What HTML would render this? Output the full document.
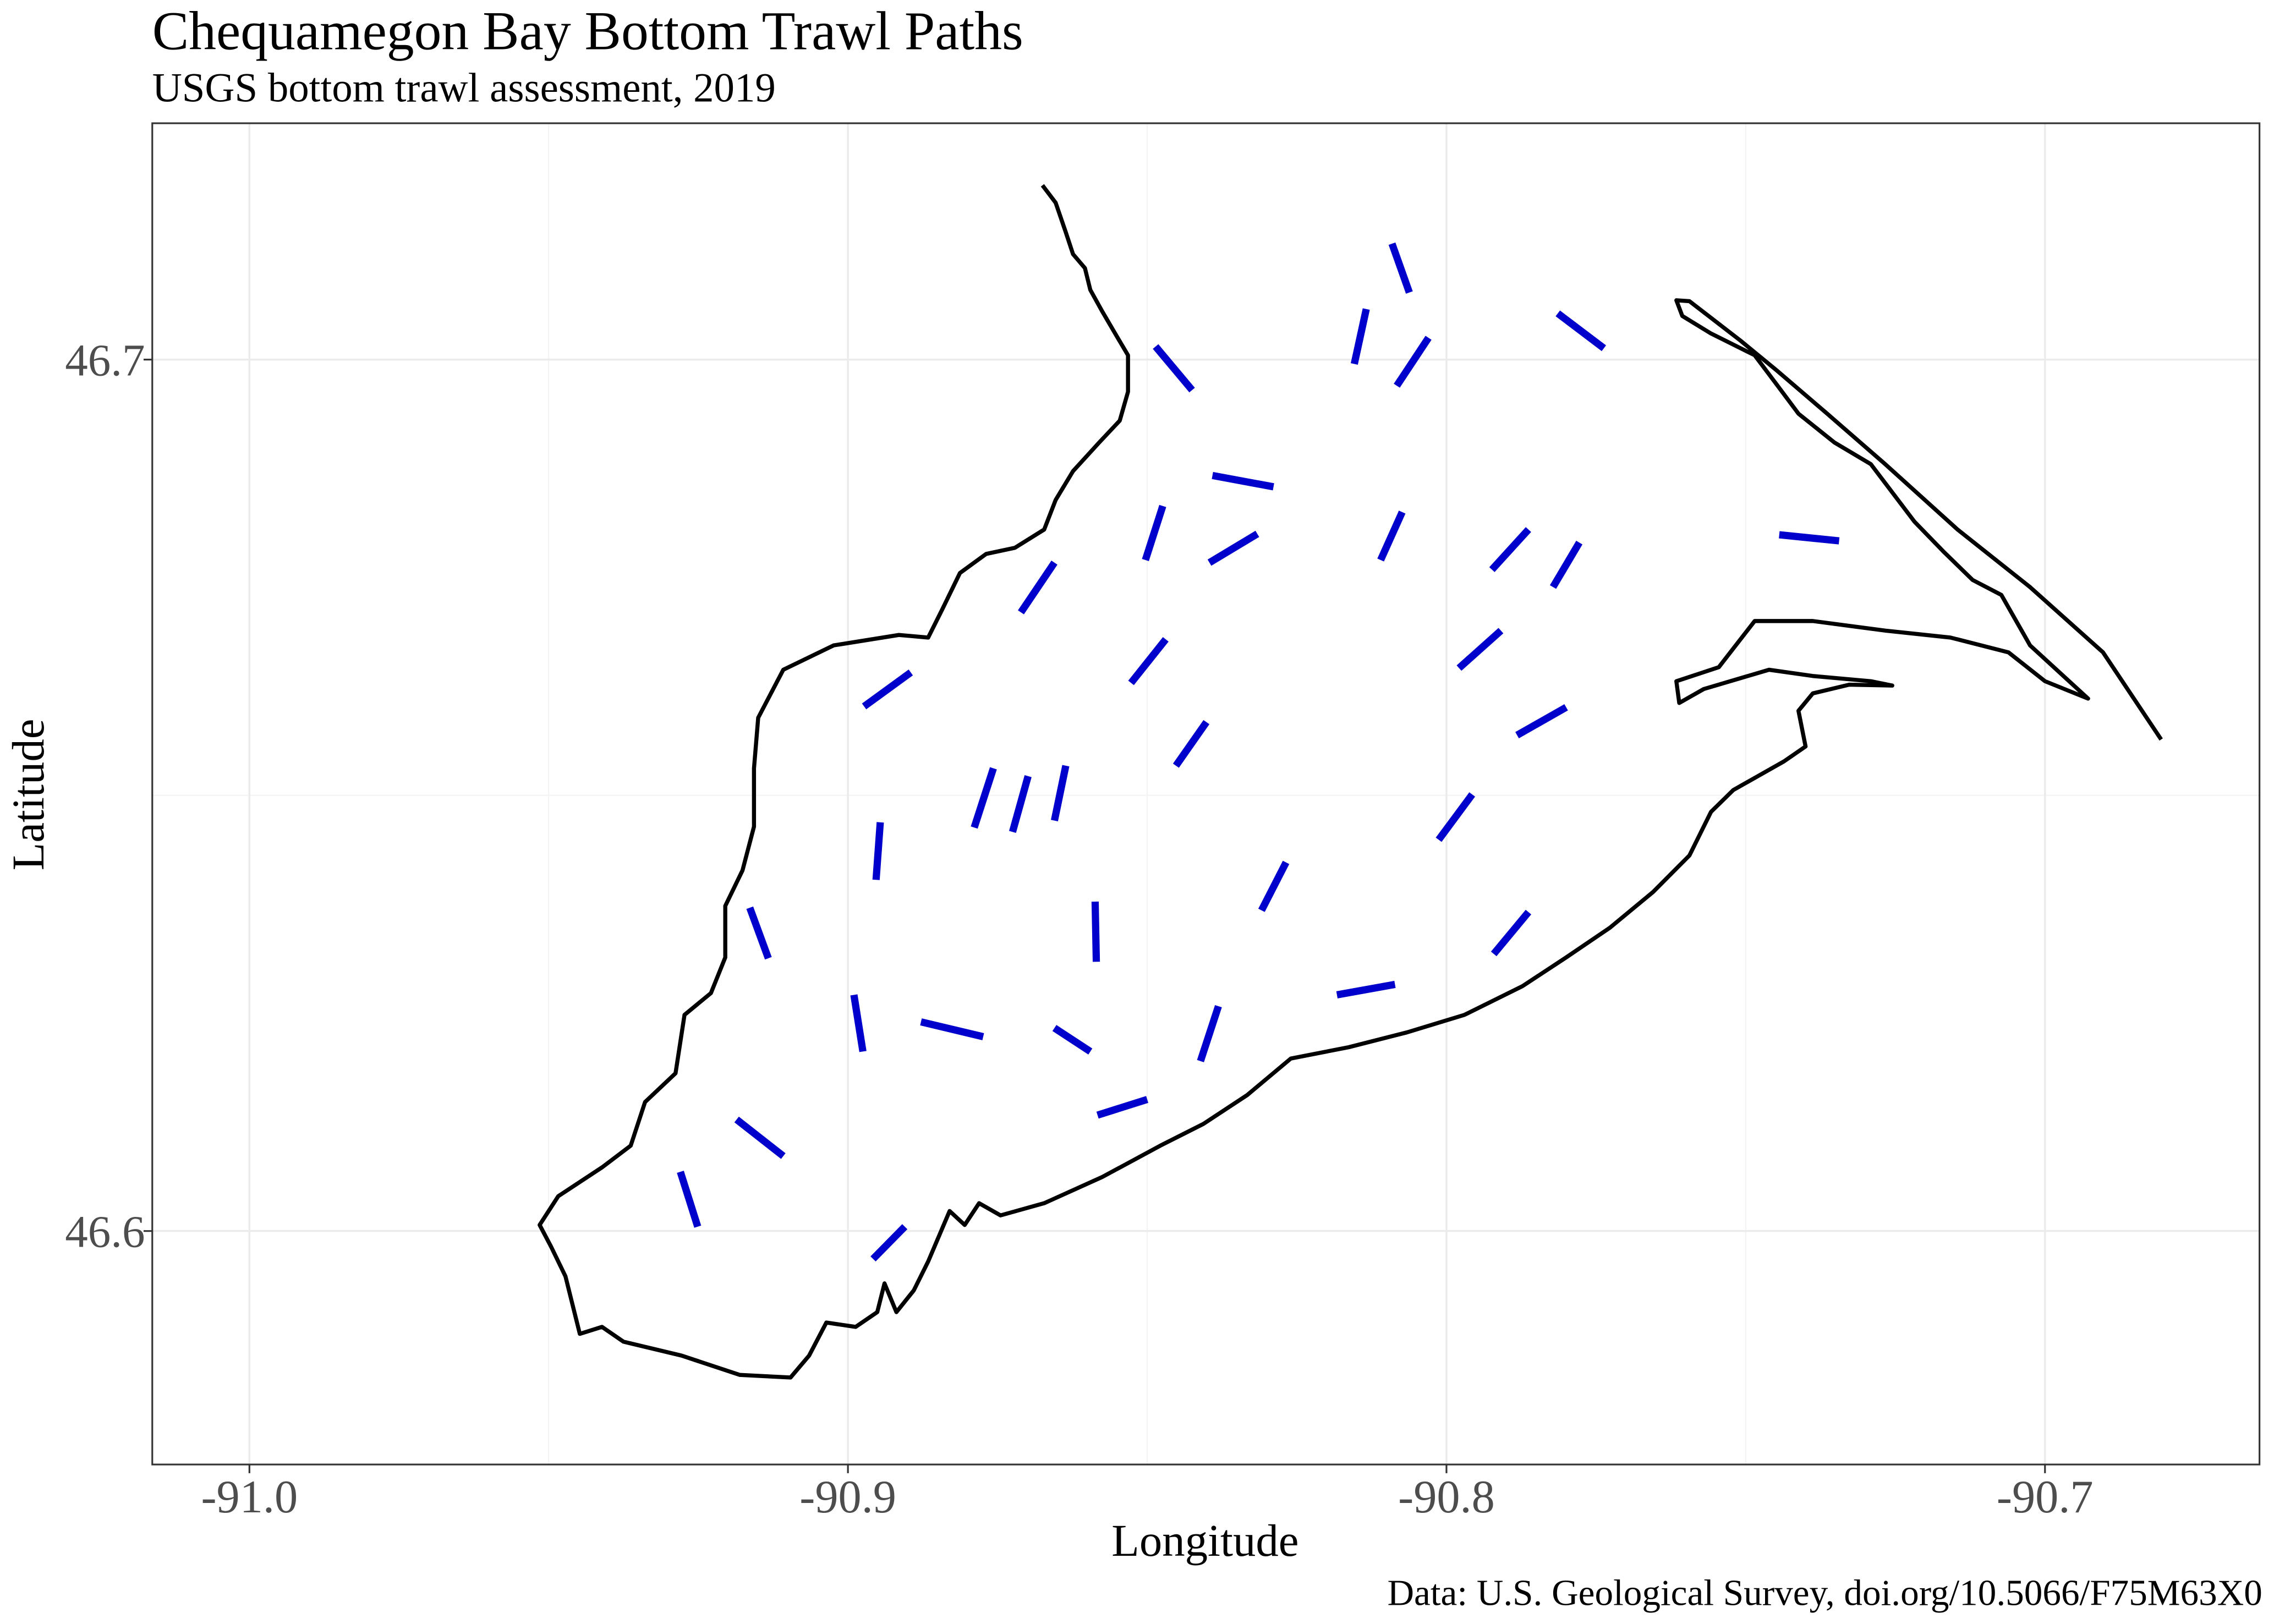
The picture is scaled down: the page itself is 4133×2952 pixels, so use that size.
<!DOCTYPE html>
<html><head><meta charset="utf-8"><title>Chequamegon Bay Bottom Trawl Paths</title>
<style>html,body{margin:0;padding:0;background:#fff;}svg{display:block;}</style></head>
<body>
<svg id="chart" width="4133" height="2952" viewBox="0 0 1568 1120" preserveAspectRatio="none" xmlns="http://www.w3.org/2000/svg" font-family="'Liberation Serif', serif">
<rect x="0" y="0" width="1568" height="1120" fill="#fff"/>
<text x="105" y="34" font-size="37.8" fill="#000">Chequamegon Bay Bottom Trawl Paths</text>
<text x="105" y="70" font-size="28.4" fill="#000">USGS bottom trawl assessment, 2019</text>
<g id="grid"></g>
<g id="shore"></g>
<g id="trawls"></g>
<rect x="105" y="85" width="1453" height="925" fill="none" stroke="#333" stroke-width="1.2"/>
<g id="axes"></g>
<text x="831" y="1073" font-size="31.4" text-anchor="middle" fill="#000">Longitude</text>
<text transform="translate(30,548) rotate(-90)" font-size="31.4" text-anchor="middle" fill="#000">Latitude</text>
<text x="1560" y="1107" font-size="25.5" text-anchor="end" fill="#000">Data: U.S. Geological Survey, doi.org/10.5066/F75M63X0</text>
</svg>
<script>
const lonTicks = [-91.0, -90.9, -90.8, -90.7];
const lonTickLabels = ["-91.0", "-90.9", "-90.8", "-90.7"];
const lonMinor = [-90.95, -90.85, -90.75];
const latTicks = [46.6, 46.7];
const latTickLabels = ["46.6", "46.7"];
const latMinor = [46.65];
// trawl segments: start/end longitude and latitude
const trawlLon1 = [-90.8091,-90.8134,-90.8030,-90.7814,-90.8486,-90.8391,-90.8474,-90.8316,-90.8074,-90.7863,-90.7778,-90.7444,-90.8655,-90.8469,-90.7909,-90.8895,-90.8401,-90.7800,-90.8757,-90.8699,-90.8636,-90.8946,-90.7957,-90.8268,-90.9164,-90.8587,-90.7863,-90.8990,-90.8878,-90.8655,-90.8183,-90.8381,-90.8500,-90.9186,-90.9280,-90.8905];
const trawlLat1 = [46.7133,46.7058,46.7025,46.7053,46.7015,46.6867,46.6832,46.6800,46.6825,46.6805,46.6790,46.6799,46.6767,46.6679,46.6689,46.6641,46.6584,46.6601,46.6531,46.6522,46.6534,46.6469,46.6501,46.6423,46.6371,46.6378,46.6366,46.6271,46.6240,46.6233,46.6271,46.6258,46.6151,46.6128,46.6068,46.6005];
const trawlLon2 = [-90.8062,-90.8154,-90.8083,-90.7737,-90.8425,-90.8289,-90.8503,-90.8396,-90.8110,-90.7924,-90.7822,-90.7344,-90.8711,-90.8527,-90.7979,-90.8973,-90.8452,-90.7882,-90.8789,-90.8725,-90.8655,-90.8953,-90.8013,-90.8309,-90.9133,-90.8585,-90.7921,-90.8975,-90.8774,-90.8595,-90.8086,-90.8411,-90.8583,-90.9108,-90.9251,-90.8958];
const trawlLat2 = [46.7077,46.6995,46.6970,46.7013,46.6965,46.6854,46.6770,46.6767,46.6770,46.6759,46.6739,46.6792,46.6710,46.6629,46.6646,46.6602,46.6534,46.6569,46.6463,46.6458,46.6471,46.6403,46.6449,46.6368,46.6313,46.6309,46.6318,46.6206,46.6223,46.6206,46.6283,46.6195,46.6133,46.6086,46.6005,46.5968];
// shoreline: longitude offset from -91.0 and latitude offset from 46.7, in millidegrees
const shoreLonMd = [132.5,134.7,136.4,137.6,139.6,140.5,142.5,144.9,146.8,146.8,145.4,142.0,137.6,134.7,132.8,127.9,123.1,118.7,115.8,113.4,108.5,97.6,92.8,89.2,85.0,84.3,84.3,82.4,79.5,79.5,77.1,72.7,71.2,66.1,63.7,58.9,51.6,48.5,50.4,52.8,55.2,58.9,62.5,72.2,81.9,90.4,93.5,96.4,101.3,104.9,106.1,108.1,111.0,113.4,117.0,119.5,121.9,125.5,132.8,142.5,152.2,159.4,166.7,174.0,183.7,193.4,203.0,212.7,220.0,227.3,234.5,240.6,244.2,247.9,256.4,260.0,258.8,261.2,267.3,274.5,270.9,261.2,253.9,243.0,238.9,238.4,245.5,251.5,261.2,273.3,284.2,293.9,300.0,307.2,297.5,292.7,287.9,283.0,278.2,270.9,264.8,258.8,255.1,251.5,244.2,239.4,238.4,240.6,249.1,255.1,263.6,273.3,285.4,297.5,309.7,319.4];
const shoreLatMd = [20.0,18.0,14.6,12.1,10.5,8.0,5.5,2.7,0.5,-3.7,-7.0,-9.5,-12.8,-16.1,-19.5,-21.6,-22.3,-24.5,-28.6,-31.9,-31.6,-32.8,-34.4,-35.6,-41.1,-46.9,-53.6,-58.6,-62.7,-68.6,-72.7,-75.2,-81.9,-85.2,-90.2,-92.7,-96.0,-99.3,-101.8,-105.2,-111.8,-111.0,-112.7,-114.3,-116.5,-116.8,-114.3,-110.5,-111.0,-109.3,-106.0,-109.3,-106.8,-103.5,-97.7,-99.3,-96.8,-98.2,-96.8,-93.8,-90.2,-87.7,-84.4,-80.2,-78.9,-77.2,-75.2,-71.9,-68.6,-65.2,-61.1,-56.9,-51.9,-49.4,-46.1,-44.4,-40.3,-38.3,-37.3,-37.4,-36.9,-36.3,-35.6,-37.8,-39.4,-36.9,-35.3,-30.0,-30.0,-31.1,-31.9,-33.6,-36.9,-38.9,-32.8,-27.0,-25.3,-22.0,-18.6,-12.0,-9.5,-6.2,-2.8,0.5,3.0,5.0,6.8,6.7,2.2,-1.2,-6.2,-12.0,-19.5,-26.1,-33.6,-43.6];

const NS = "http://www.w3.org/2000/svg";
const px0 = 105, px1 = 1558, py0 = 85, py1 = 1010;
const lonMin = -91.01623, lonMax = -90.66416, latMin = 46.57321, latMax = 46.72712;
function xScale(lon){ return px0 + (lon - lonMin) / (lonMax - lonMin) * (px1 - px0); }
function yScale(lat){ return py1 - (lat - latMin) / (latMax - latMin) * (py1 - py0); }
function mk(tag, attrs, parent){ const e = document.createElementNS(NS, tag); for (const k in attrs) e.setAttribute(k, attrs[k]); parent.appendChild(e); return e; }

const grid = document.getElementById('grid');
lonMinor.forEach(v => { const l = mk('line', {x1:xScale(v),x2:xScale(v),y1:py0,y2:py1,stroke:'#f3f3f3','stroke-width':0.8}, grid);
  
   });
latMinor.forEach(v => { const l = mk('line', {x1:px0,x2:px1,y1:yScale(v),y2:yScale(v),stroke:'#f3f3f3','stroke-width':0.8}, grid);
  
   });
lonTicks.forEach(v => { const l = mk('line', {x1:xScale(v),x2:xScale(v),y1:py0,y2:py1,stroke:'#ebebeb','stroke-width':1.3}, grid);
  
   });
latTicks.forEach(v => { const l = mk('line', {x1:px0,x2:px1,y1:yScale(v),y2:yScale(v),stroke:'#ebebeb','stroke-width':1.3}, grid);
  
   });

const axes = document.getElementById('axes');
lonTicks.forEach((v, i) => {
  const t = mk('line', {x1:xScale(v),x2:xScale(v),y1:py1,y2:py1+6,stroke:'#333','stroke-width':1.2}, axes);
  
  
  const tx = mk('text', {x:xScale(v), y:py1+33, 'font-size':32, 'text-anchor':'middle', fill:'#4d4d4d'}, axes);
  tx.textContent = lonTickLabels[i];
  
  
});
latTicks.forEach((v, i) => {
  const t = mk('line', {x1:px0-6,x2:px0,y1:yScale(v),y2:yScale(v),stroke:'#333','stroke-width':1.2}, axes);
  
  
  const tx = mk('text', {x:px0-5, y:yScale(v)+11, 'font-size':31.5, 'text-anchor':'end', fill:'#4d4d4d'}, axes);
  tx.textContent = latTickLabels[i];
  
  
});

const shore = document.getElementById('shore');
const pts = shoreLonMd.map((d, i) => xScale(-91 + d / 1000).toFixed(1) + ',' + yScale(46.7 + shoreLatMd[i] / 1000).toFixed(1)).join(' ');
const sl = mk('polyline', {points: pts, fill:'none', stroke:'#000', 'stroke-width':2.8, 'stroke-linejoin':'round'}, shore);



const tr = document.getElementById('trawls');
trawlLon1.forEach((v, i) => {
  const l = mk('line', {x1:xScale(v), y1:yScale(trawlLat1[i]), x2:xScale(trawlLon2[i]), y2:yScale(trawlLat2[i]), stroke:'#0000cd', 'stroke-width':5, 'stroke-linecap':'butt'}, tr);
  
  
});
</script>
</body></html>
